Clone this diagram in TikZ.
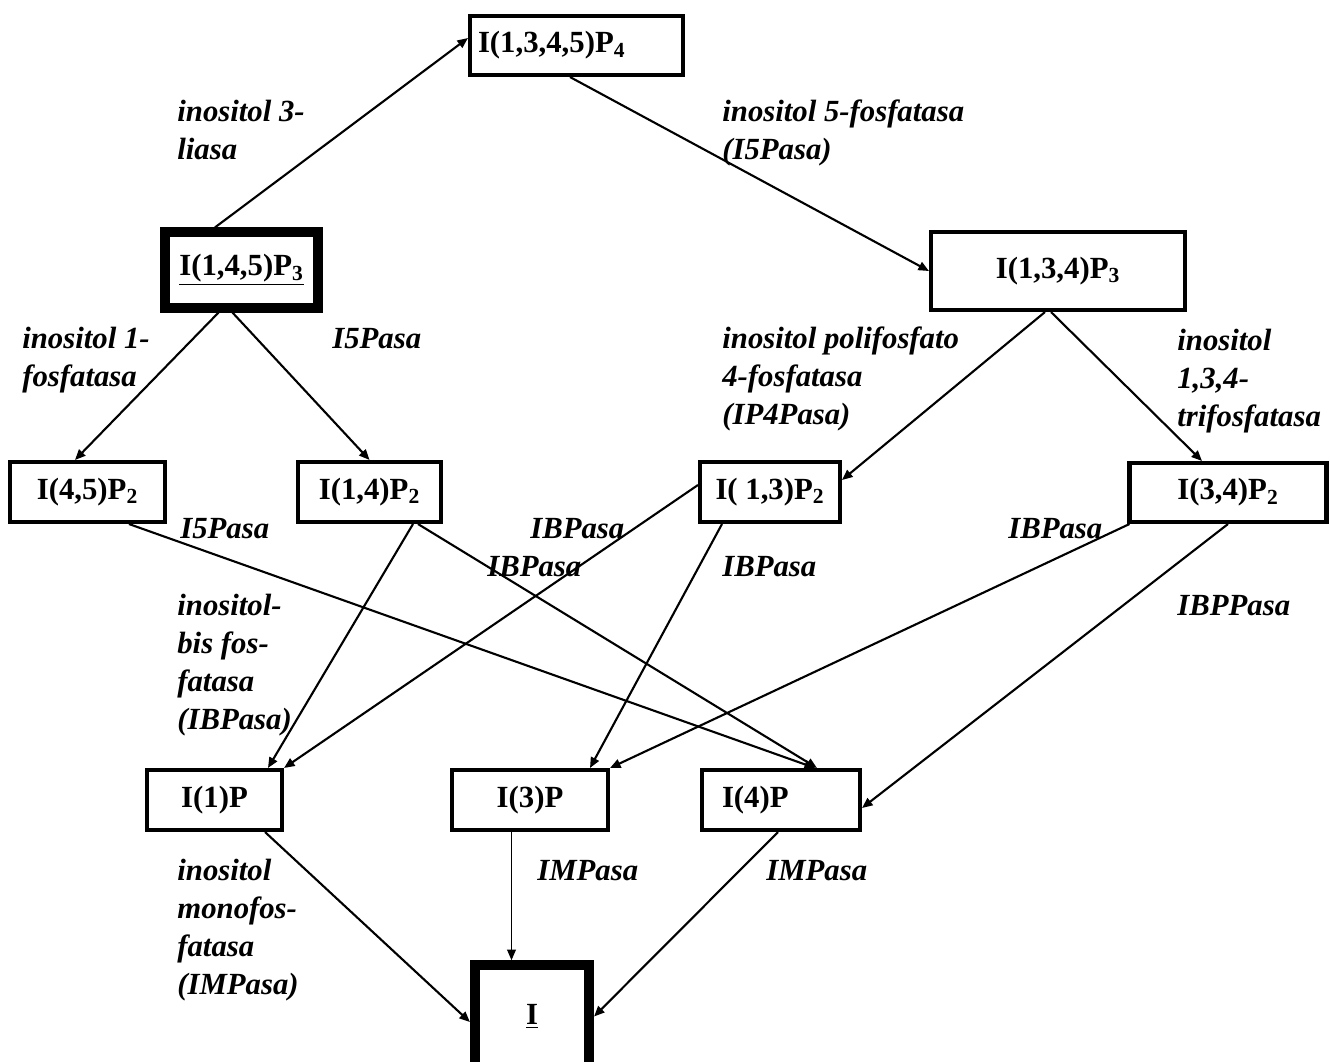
\documentclass[tikz,border=0pt]{standalone}
\usepackage{fontspec}
\setmainfont{Liberation Serif}
\usepackage{tikz}
\usetikzlibrary{arrows.meta,positioning}

\begin{document}
\begin{tikzpicture}[
  font=\fontsize{17.5}{21.5}\selectfont\bfseries,
  box/.style={draw, line width=2.3pt, minimum height=1.2cm, inner sep=0pt},
  mainbox/.style={box, line width=5.5pt},
  enz/.style={font=\fontsize{17.5}{21.5}\selectfont\bfseries\itshape, align=left, anchor=base west, inner sep=0pt},
  conv/.style={-{Triangle[length=6pt,width=5pt]}, line width=1.2pt}
]
\useasboundingbox (0,0) rectangle (26.6,-21.24);
\node[box, minimum width=4.26cm, minimum height=1.18cm, text width=3.94cm, inner xsep=0.16cm, align=left] (p1345) at (11.53,-0.91) {I(1,3,4,5)P\textsubscript{4}};
\node[mainbox, minimum width=3.07cm, minimum height=1.51cm] (p145) at (4.83,-5.40) {\underline{I(1,4,5)P\textsubscript{3}}};
\node[box, minimum width=5.08cm, minimum height=1.56cm] (p134) at (21.16,-5.42) {I(1,3,4)P\textsubscript{3}};
\node[box, minimum width=3.1cm] (p45) at (1.75,-9.84) {I(4,5)P\textsubscript{2}};
\node[box, minimum width=2.86cm] (p14) at (7.39,-9.84) {I(1,4)P\textsubscript{2}};
\node[box, minimum width=2.8cm] (p13) at (15.40,-9.84) {I( 1,3)P\textsubscript{2}};
\node[box, minimum width=3.94cm, minimum height=1.18cm] (p34) at (24.56,-9.85) {I(3,4)P\textsubscript{2}};
\node[box, minimum width=2.7cm] (p1) at (4.29,-16.0) {I(1)P};
\node[box, minimum width=3.12cm] (p3) at (10.6,-16.0) {I(3)P};
\node[box, minimum width=3.16cm, text width=2.36cm, inner xsep=0.4cm, align=left] (p4) at (15.62,-16.0) {I(4)P};
\node[mainbox, minimum width=2.29cm, minimum height=2.06cm] (inos) at (10.64,-20.33) {\underline{I}};

% multi-line labels: placed by the baseline of their last line
\node[enz] (e3lia) at (3.54,-3.18) {inositol 3-\\liasa};
\node[enz] (e5fos) at (14.44,-3.18) {inositol 5-fosfatasa\\(I5Pasa)};
\node[enz] (e1fos) at (0.44,-7.72) {inositol 1-\\fosfatasa};
\node[enz] (ei5a) at (6.64,-6.96) {I5Pasa};
\node[enz] (ep4) at (14.44,-8.48) {inositol polifosfato\\4-fosfatasa\\(IP4Pasa)};
\node[enz] (etri) at (23.54,-8.52) {inositol\\1,3,4-\\trifosfatasa};
\node[enz] (ei5b) at (3.60,-10.76) {I5Pasa};
\node[enz] (eiba) at (10.60,-10.76) {IBPasa};
\node[enz] (eibb) at (9.74,-11.52) {IBPasa};
\node[enz] (eibc) at (14.44,-11.52) {IBPasa};
\node[enz] (eibd) at (20.16,-10.76) {IBPasa};
\node[enz] (eibp) at (23.54,-12.30) {IBPPasa};
\node[enz] (ebis) at (3.54,-14.58) {inositol-\\bis fos-\\fatasa\\(IBPasa)};
\node[enz] (emono) at (3.54,-19.88) {inositol\\monofos-\\fatasa\\(IMPasa)};
\node[enz] (eima) at (10.74,-17.60) {IMPasa};
\node[enz] (eimb) at (15.32,-17.60) {IMPasa};

\draw[conv] ([xshift=-0.53cm]p145.north) -- ([yshift=0.15cm]p1345.west);
\draw[conv] ([xshift=-0.13cm]p1345.south) -- (p134.west);
\draw[conv] ([xshift=-0.46cm]p145.south) -- ([xshift=-0.25cm]p45.north);
\draw[conv] ([xshift=-0.18cm]p145.south) -- (p14.north);
\draw[conv] ([xshift=-0.26cm]p134.south) -- ([yshift=0.24cm]p13.east);
\draw[conv] ([xshift=-0.14cm]p134.south) -- ([xshift=-0.52cm]p34.north);
\draw[conv] ([xshift=0.83cm]p45.south) -- ([xshift=0.68cm]p4.north);
\draw[conv] ([xshift=0.87cm]p14.south) -- ([xshift=1.07cm]p1.north);
\draw[conv] ([xshift=0.97cm]p14.south) -- ([xshift=0.72cm]p4.north);
\draw[conv] ([yshift=0.14cm]p13.west) -- (p1.north east);
\draw[conv] ([xshift=-0.96cm]p13.south) -- ([xshift=1.2cm]p3.north);
\draw[conv] ([xshift=0.04cm]p34.south west) -- (p3.north east);
\draw[conv] (p34.south) -- ([yshift=-0.16cm]p4.east);
\draw[conv] ([xshift=1.01cm]p1.south) -- ([yshift=-0.11cm]inos.west);
\draw[conv, line width=0.7pt] ([xshift=-0.37cm]p3.south) -- ([xshift=-0.37cm]p3.south |- inos.north);
\draw[conv] ([xshift=-0.06cm]p4.south) -- (inos.east);
\end{tikzpicture}
\end{document}
